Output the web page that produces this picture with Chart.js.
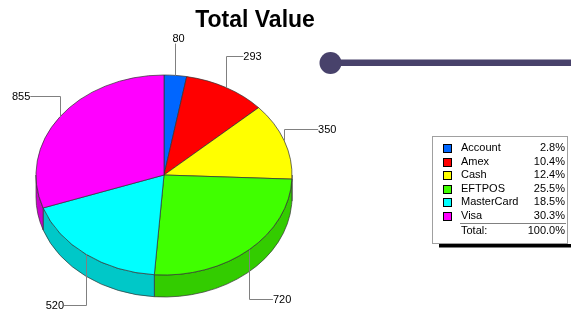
<!DOCTYPE html>
<html>
<head>
<meta charset="utf-8">
<script src="https://cdn.jsdelivr.net/npm/chart.js@4.4.1/dist/chart.umd.min.js"></script>
<style>
  body { margin: 0; background: #fff; }
  #wrap { width: 571px; height: 310px; position: relative; }
</style>
</head>
<body>
<div id="wrap"><canvas id="chart"></canvas></div>
<script>
const categories = ['Account', 'Amex', 'Cash', 'EFTPOS', 'MasterCard', 'Visa'];
// EFTPOS shows as 720 but its share reads 25.5%, so it sits a little under 720
const values = [80, 293, 350, 719.8, 520, 855];
const sliceColors = ['#0066ff', '#ff0000', '#ffff00', '#40ff00', '#00ffff', '#ff00ff'];
const sideColors = ['#0052cc', '#cc0000', '#cccc00', '#33cc00', '#00c8c8', '#cc00cc'];

const TILT = 100 / 128;   // vertical squash of the pie
const DEPTH = 22;         // thickness of the side wall
const FONT = '"Liberation Sans", Arial, sans-serif';

function pieGeometry(chart) {
    const arc = chart.getDatasetMeta(0).data[0];
    return { cx: arc.x, cy: arc.y, rx: arc.outerRadius, ry: arc.outerRadius * TILT };
}

// Side wall + squash of the top face
const pie3d = {
    id: 'pie3d',
    beforeDatasetsDraw(chart) {
        const ctx = chart.ctx;
        const g = pieGeometry(chart);
        const arcs = chart.getDatasetMeta(0).data;
        ctx.save();
        arcs.forEach((arc, i) => {
            const a1 = Math.max(arc.startAngle, 0);
            const a2 = Math.min(arc.endAngle, Math.PI);
            if (a2 <= a1) return;
            ctx.beginPath();
            ctx.ellipse(g.cx, g.cy, g.rx, g.ry, 0, a1, a2);
            ctx.ellipse(g.cx, g.cy + DEPTH, g.rx, g.ry, 0, a2, a1, true);
            ctx.closePath();
            ctx.fillStyle = sideColors[i];
            ctx.fill();
            ctx.lineWidth = 0.7;
            ctx.strokeStyle = '#333';
            ctx.stroke();
        });
        ctx.restore();
        ctx.save();
        ctx.translate(g.cx, g.cy);
        ctx.scale(1, TILT);
        ctx.translate(-g.cx, -g.cy);
    },
    afterDatasetsDraw(chart) {
        chart.ctx.restore();
    }
};

// Leader lines, title, legend box and the bar at the top right
const extras = {
    id: 'extras',
    afterDraw(chart) {
        const ctx = chart.ctx;
        const g = pieGeometry(chart);
        const arcs = chart.getDatasetMeta(0).data;
        const total = values.reduce((a, b) => a + b, 0);

        ctx.save();
        ctx.font = '11px ' + FONT;
        arcs.forEach((arc, i) => {
            const mid = (arc.startAngle + arc.endAngle) / 2;
            const cos = Math.cos(mid), sin = Math.sin(mid);
            const ax = g.cx + g.rx * cos;
            const ay = g.cy + g.ry * sin;
            const lx = g.cx + (g.rx + 36) * cos;
            let ly = g.cy + (g.ry + 36) * sin + (sin > 0 ? DEPTH : 0);
            const text = String(Math.round(values[i]));
            ctx.strokeStyle = '#808080';
            ctx.lineWidth = 1;
            ctx.fillStyle = '#000';
            ctx.beginPath();
            if (Math.abs(cos) < 0.2) {
                ly += 4;
                ctx.moveTo(Math.round(ax) + 0.5, ay);
                ctx.lineTo(Math.round(ax) + 0.5, ly);
                ctx.stroke();
                ctx.textAlign = 'center';
                ctx.textBaseline = 'bottom';
                ctx.fillText(text, lx, ly + 1);
            } else {
                const y = Math.round(ly) + 0.5;
                ctx.moveTo(Math.round(ax) + 0.5, ay);
                ctx.lineTo(Math.round(ax) + 0.5, y);
                ctx.lineTo(lx, y);
                ctx.stroke();
                ctx.textAlign = cos > 0 ? 'left' : 'right';
                ctx.textBaseline = 'middle';
                ctx.fillText(text, lx, y);
            }
        });

        // title
        ctx.fillStyle = '#000';
        ctx.font = 'bold 23px ' + FONT;
        ctx.textAlign = 'center';
        ctx.textBaseline = 'alphabetic';
        ctx.fillText('Total Value', 255, 27);

        // bar with knob
        ctx.fillStyle = '#48426b';
        ctx.fillRect(330, 59.5, 241, 6.5);
        ctx.beginPath();
        ctx.arc(330.5, 63, 11, 0, Math.PI * 2);
        ctx.fill();

        // legend box
        const bx = 432.5, by = 136.5, bw = 135, bh = 107;
        ctx.fillStyle = '#000';
        ctx.fillRect(439, 244, 132, 3.5);
        ctx.fillStyle = '#fff';
        ctx.fillRect(bx, by, bw, bh);
        ctx.strokeStyle = '#a0a0a0';
        ctx.lineWidth = 1;
        ctx.strokeRect(bx, by, bw, bh);

        ctx.font = '11px ' + FONT;
        ctx.textBaseline = 'middle';
        categories.forEach((name, i) => {
            const y = 148 + i * 13.5;
            ctx.fillStyle = sliceColors[i];
            ctx.fillRect(443, Math.round(y) - 4, 9, 9);
            ctx.strokeStyle = '#000';
            ctx.strokeRect(443.5, Math.round(y) - 3.5, 8, 8);
            ctx.fillStyle = '#000';
            ctx.textAlign = 'left';
            ctx.fillText(name, 461, y);
            ctx.textAlign = 'right';
            ctx.fillText((values[i] / total * 100).toFixed(1) + '%', 565, y);
        });
        ctx.strokeStyle = '#808080';
        ctx.beginPath();
        ctx.moveTo(460, 223.5);
        ctx.lineTo(566, 223.5);
        ctx.stroke();
        ctx.fillStyle = '#000';
        ctx.textAlign = 'left';
        ctx.fillText('Total:', 461, 231);
        ctx.textAlign = 'right';
        ctx.fillText('100.0%', 565, 231);
        ctx.restore();
    }
};

new Chart(document.getElementById('chart'), {
    type: 'pie',
    data: {
        labels: categories,
        datasets: [{
            data: values,
            backgroundColor: sliceColors,
            borderColor: '#333',
            borderWidth: 0.8,
            radius: 128
        }]
    },
    options: {
        responsive: true,
        maintainAspectRatio: false,
        animation: false,
        layout: { padding: { left: 36, right: 279, top: 47, bottom: 7 } },
        plugins: {
            legend: { display: false },
            title: { display: false },
            tooltip: { enabled: false }
        }
    },
    plugins: [pie3d, extras]
});
</script>
</body>
</html>
